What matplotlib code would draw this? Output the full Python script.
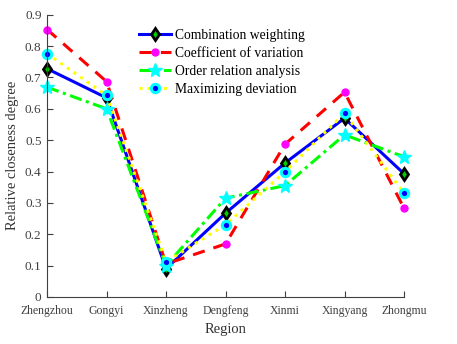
import matplotlib
matplotlib.use('Agg')
import matplotlib.pyplot as plt

regions = ['Zhengzhou', 'Gongyi', 'Xinzheng', 'Dengfeng', 'Xinmi', 'Xingyang', 'Zhongmu']
combination = [0.728, 0.635, 0.09, 0.267, 0.427, 0.570, 0.393]
coef_variation = [0.853, 0.687, 0.105, 0.169, 0.487, 0.653, 0.283]
order_relation = [0.669, 0.600, 0.100, 0.315, 0.355, 0.517, 0.447]
max_deviation = [0.776, 0.643, 0.112, 0.230, 0.399, 0.586, 0.331]

plt.rcParams['font.family'] = ['Liberation Serif', 'DejaVu Serif']

fig = plt.figure(figsize=(4.57, 3.44), dpi=100)
ax = fig.add_axes([0.103, 0.137, 0.781, 0.82])
x = range(len(regions))

ax.plot(x, combination, '-', color='blue', lw=2.2, marker='d', ms=6,
        mfc='#00cc00', mec='black', mew=2, label='Combination weighting', clip_on=False)
ax.plot(x, coef_variation, '--', color='red', lw=2.2, dashes=(4, 3), marker='o', ms=5,
        mfc='magenta', mec='magenta', label='Coefficient of variation', clip_on=False)
ax.plot(x, order_relation, '-.', color='#00ff00', lw=2.2, dashes=(4, 1.5, 1, 1.5), marker='*', ms=10,
        mfc='cyan', mec='cyan', label='Order relation analysis', clip_on=False)
ax.plot(x, max_deviation, ':', color='yellow', lw=2.2, marker='o', ms=6,
        mfc='blue', mec='cyan', mew=2.2, label='Maximizing deviation', clip_on=False)

ax.set_xlim(0, len(regions) - 1)
ax.set_ylim(0, 0.9)
ax.set_xticks(list(x))
ax.set_xticklabels(regions, fontsize=8.5)
ax.set_yticks([i / 10 for i in range(10)])
ax.set_yticklabels(['0'] + ['%.1f' % (i / 10) for i in range(1, 10)], fontsize=9.5)
ax.tick_params(direction='in', length=4, colors='#404040')
ax.tick_params(axis='x', pad=6)
ax.tick_params(axis='y', pad=4)
ax.spines['top'].set_visible(False)
ax.spines['right'].set_visible(False)
for s in ['left', 'bottom']:
    ax.spines[s].set_color('#404040')
ax.set_xlabel('Region', fontsize=10.5, color='#333333')
ax.set_ylabel('Relative closeness degree', fontsize=10.5, color='#333333')

ax.legend(loc='upper left', bbox_to_anchor=(0.23, 0.985), frameon=False, fontsize=9.8,
          handlelength=2.4, labelspacing=0.38, borderpad=0.2, handletextpad=0.3)

fig.savefig('out.png', dpi=100)
